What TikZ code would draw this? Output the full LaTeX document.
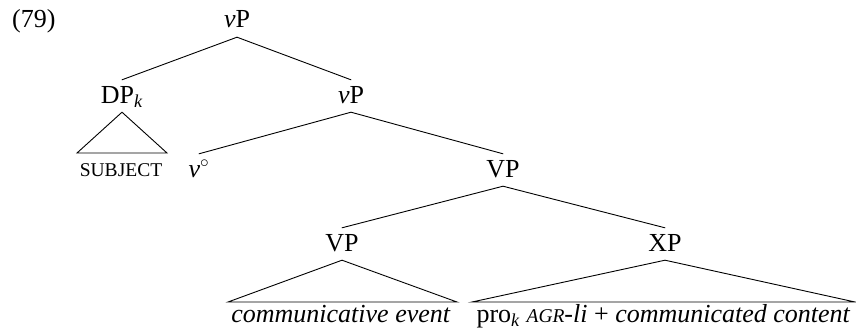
\documentclass[tikz,border=0pt]{standalone}
\usepackage{fontspec}
\setmainfont{Liberation Serif}
\begin{document}
\begin{tikzpicture}[x=1pt,y=-1pt,
  lab/.style={font=\fontsize{26}{30}\selectfont, anchor=base, inner xsep=0pt, inner ysep=5pt, text height=18pt, text depth=4pt},
  leaf/.style={font=\fontsize{26}{30}\selectfont, anchor=base, inner sep=0pt},
  edge/.style={line width=0.9pt, line cap=round, line join=miter}]
\useasboundingbox (0,0) rectangle (856,329);
\node[leaf, anchor=base west] (ex) at (12,28) {(79)};
\node[lab] (vP) at (237,28) {\textit{v}P};
\node[lab] (DP) at (122,103) {DP\textsubscript{\textit{k}}};
\node[lab] (vP2) at (351,103) {\textit{v}P};
\node[leaf] (subj) at (121,176) {\fontsize{19.5}{22}\selectfont SUBJECT};
\node[lab] (vhead) at (199,177) {\textit{v}$^{\circ}$};
\node[lab] (VP) at (503,177) {VP};
\node[lab] (VP2) at (342,251) {VP};
\node[lab] (XP) at (665,251) {XP};
\node[leaf] (ce) at (341,322) {\textit{communicative event}};
\node[leaf] (cc) at (663.5,322) {pro\textsubscript{\textit{k}} {\itshape\fontsize{19.5}{22}\selectfont AGR}\textit{-li} + \textit{communicated content}};
\coordinate (dpL) at (77,153);
\coordinate (dpR) at (167,153);
\coordinate (vpL) at (228,302);
\coordinate (vpR) at (457,302);
\coordinate (xpL) at (472,302);
\coordinate (xpR) at (855,302);
\draw[edge] (vP.south) -- (DP.north);
\draw[edge] (vP.south) -- (vP2.north);
\draw[edge] (vP2.south) -- (vhead.north);
\draw[edge] (vP2.south) -- (VP.north);
\draw[edge] (VP.south) -- (VP2.north);
\draw[edge] (VP.south) -- (XP.north);
\draw[edge] (DP.south) -- (dpL) -- (dpR) -- cycle;
\draw[edge] (VP2.south) -- (vpL) -- (vpR) -- cycle;
\draw[edge] (XP.south) -- (xpL) -- (xpR) -- cycle;
\end{tikzpicture}
\end{document}
